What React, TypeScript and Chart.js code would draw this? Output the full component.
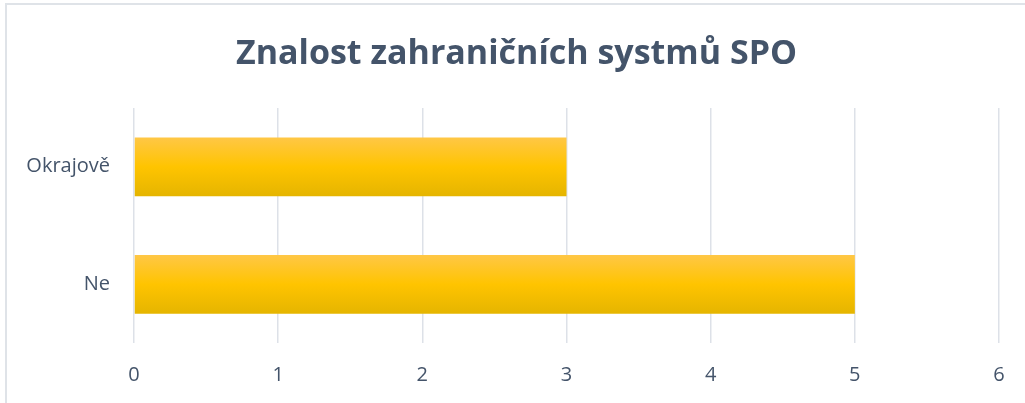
import React, { useEffect, useRef } from "react";
import { Chart, registerables } from "chart.js";

Chart.register(...registerables);

const categories = ["Okrajově", "Ne"];
const values = [3, 5];
const xTicks = [0, 1, 2, 3, 4, 5, 6];
const titleText = "Znalost zahraničních systmů SPO";

const widenYLabels = {
  id: "widenYLabels",
  afterLayout(chart: any) {
    const ys = chart.scales.y;
    if (ys) ys.left = 0;
  },
};

export default function App() {
  const ref = useRef<HTMLCanvasElement | null>(null);

  useEffect(() => {
    document.body.style.margin = "0";
    const canvas = ref.current;
    if (!canvas) return;
    const chart = new Chart(canvas, {
      type: "bar",
      plugins: [widenYLabels],
      data: {
        labels: categories,
        datasets: [
          {
            data: values,
            barPercentage: 0.5,
            categoryPercentage: 1,
            backgroundColor: (ctx: any) => {
              const c = ctx.chart;
              const ys = c.scales && c.scales.y;
              if (!ys || ctx.dataIndex === undefined) return "#ffc000";
              const yc = ys.getPixelForValue(ctx.dataIndex);
              const half = (ys.height / categories.length) * 0.5 / 2;
              if (!isFinite(yc) || !isFinite(half) || half <= 0) return "#ffc000";
              const g = c.ctx.createLinearGradient(0, yc - half, 0, yc + half);
              g.addColorStop(0, "#ffc746");
              g.addColorStop(0.5, "#ffc400");
              g.addColorStop(1, "#e5b500");
              return g;
            },
            borderWidth: 0,
          },
        ],
      },
      options: {
        indexAxis: "y",
        animation: false,
        responsive: false,
        layout: { padding: { left: 34, right: 26, top: 20, bottom: 0 } },
        plugins: {
          legend: { display: false },
          tooltip: { enabled: false },
          title: {
            display: true,
            text: titleText,
            color: "#44546a",
            font: { family: "Open Sans", size: 34, weight: "bold" },
            padding: { top: 14, bottom: 33.2 },
          },
        },
        scales: {
          x: {
            type: "linear",
            min: 0,
            max: 6,
            afterBuildTicks: (s: any) => {
              s.ticks = xTicks.map((v) => ({ value: v }));
            },
            afterFit: (s: any) => {
              s.height = 403 - 343;
            },
            grid: { color: "#dde1e8", lineWidth: 1.5, drawTicks: false },
            border: { display: false },
            ticks: {
              color: "#44546a",
              font: { family: "Open Sans", size: 20 },
              padding: 20,
            },
          },
          y: {
            afterFit: (s: any) => {
              s.width = 100;
            },
            grid: { display: false, drawTicks: false },
            border: { display: false },
            ticks: {
              color: "#44546a",
              font: { family: "Open Sans", size: 20 },
              padding: 24,
            },
          },
        },
      },
    });
    return () => chart.destroy();
  }, []);

  return (
    <div style={{ position: "relative", width: 1025, height: 403, overflow: "hidden" }}>
      <div
        style={{
          position: "absolute",
          left: 5,
          top: 3,
          width: 1100,
          height: 500,
          border: "2px solid #dfe3e8",
          boxSizing: "border-box",
        }}
      />
      <canvas
        ref={ref}
        width={1025}
        height={403}
        style={{ position: "absolute", left: 0, top: 0, width: 1025, height: 403 }}
      />
    </div>
  );
}
